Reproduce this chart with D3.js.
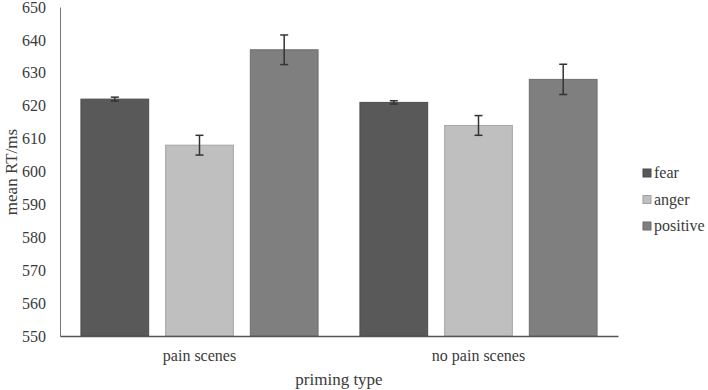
<!DOCTYPE html>
<html>
<head>
  <meta charset="UTF-8">
  <style>
    body { margin: 0; background: #fff; }
  </style>
</head>
<body>
<script type='text/javascript' src='https://d3js.org/d3.v7.min.js'></script>
<script>
var width = 708, height = 390;
var serif = '"Liberation Serif", "Times New Roman", serif';

// data
var groups = ['pain scenes', 'no pain scenes'];
var emotions = ['fear', 'anger', 'positive'];
var means = [[622, 608, 637], [621, 614, 628]];
var errs = [[0.6, 3, 4.5], [0.5, 3, 4.6]];
var yTicks = [550, 560, 570, 580, 590, 600, 610, 620, 630, 640, 650];
var colors = ['#595959', '#bfbfbf', '#7f7f7f'];

var svg = d3.select('body').append('svg').attr('width', width).attr('height', height);

var x0 = d3.scaleBand().domain(groups).range([60, 618]).paddingInner(0.15).paddingOuter(0.075);
var x1 = d3.scaleBand().domain(emotions).range([0, x0.bandwidth()]).padding(0.2).paddingOuter(0);
var y = d3.scaleLinear().domain([550, 650]).range([336, 7]);

// bars
groups.forEach(function(g, gi) {
  var gg = svg.append('g').attr('transform', 'translate(' + x0(g) + ',0)');
  emotions.forEach(function(e, ei) {
    var v = means[gi][ei], er = errs[gi][ei];
    var bx = x1(e), bw = x1.bandwidth(), cx = bx + bw / 2;
    gg.append('rect')
      .attr('x', bx).attr('y', y(v))
      .attr('width', bw).attr('height', y(550) - y(v))
      .attr('fill', colors[ei])
      .attr('stroke', d3.color(colors[ei]).darker(0.4)).attr('stroke-width', 1);
    // error bar
    gg.append('line').attr('x1', cx).attr('x2', cx)
      .attr('y1', y(v + er)).attr('y2', y(v - er))
      .attr('stroke', '#333').attr('stroke-width', 1.5);
    [v + er, v - er].forEach(function(t) {
      gg.append('line').attr('x1', cx - 4).attr('x2', cx + 4)
        .attr('y1', y(t)).attr('y2', y(t))
        .attr('stroke', '#333').attr('stroke-width', 1.5);
    });
  });
});

// y axis
var yAxis = svg.append('g').attr('transform', 'translate(60,0)')
  .call(d3.axisLeft(y).tickValues(yTicks).tickSize(0).tickPadding(14));
yAxis.attr('font-family', null);
yAxis.select('.domain').attr('stroke', '#777');
yAxis.selectAll('text').style('font-size', '16px').style('font-family', serif).attr('fill', '#3a3a3a');

// x axis
var xAxis = svg.append('g').attr('transform', 'translate(0,336)')
  .call(d3.axisBottom(x0).tickSize(0).tickPadding(14));
xAxis.attr('font-family', null);
xAxis.select('.domain').attr('stroke', '#555').attr('stroke-width', 1.5);
xAxis.selectAll('text').style('font-size', '16px').style('font-family', serif).attr('fill', '#3a3a3a');

// titles
svg.append('text').attr('x', 339).attr('y', 385).attr('text-anchor', 'middle')
  .style('font-size', '17px').style('font-family', serif).attr('fill', '#3a3a3a').text('priming type');
svg.append('text').attr('transform', 'translate(17,172) rotate(-90)').attr('text-anchor', 'middle')
  .style('font-size', '17px').style('font-family', serif).attr('fill', '#3a3a3a').text('mean RT/ms');

// legend
var leg = svg.append('g').attr('transform', 'translate(643,173)');
emotions.forEach(function(e, i) {
  var row = leg.append('g').attr('transform', 'translate(0,' + (i * 26.5) + ')');
  row.append('rect').attr('x', 0).attr('y', -4).attr('width', 8).attr('height', 8)
    .attr('fill', colors[i]).attr('stroke', d3.color(colors[i]).darker(0.5));
  row.append('text').attr('x', 11).attr('y', 5).style('font-size', '16px')
    .style('font-family', serif).attr('fill', '#3a3a3a').text(e);
});
</script>
</body>
</html>
